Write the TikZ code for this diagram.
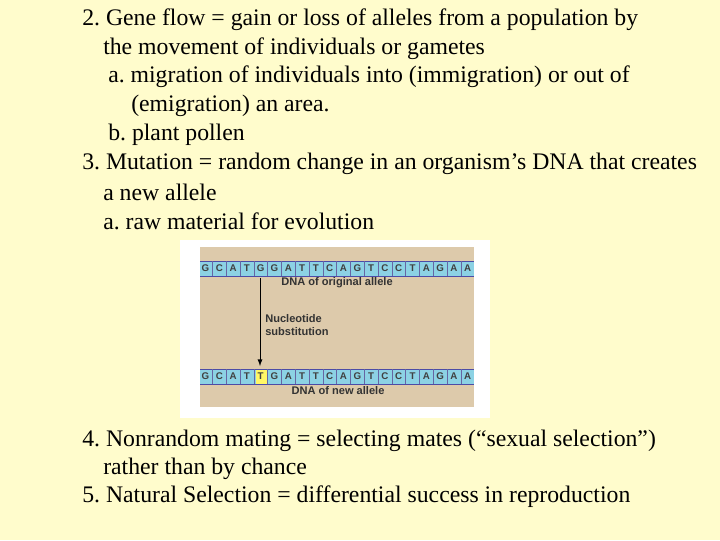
\documentclass[tikz,border=0pt]{standalone}
\usepackage{fontspec}
\setmainfont{Liberation Serif}
\newfontfamily\lsans{Liberation Sans}
\frenchspacing
\begin{document}
\begin{tikzpicture}[x=0.75pt,y=-0.75pt,
  txt/.style={anchor=west,inner sep=0pt,font=\fontsize{17.8}{20}\selectfont},
  base/.style={font=\lsans\bfseries\fontsize{7.3}{8}\selectfont,text=black!75,inner sep=0pt},
  lab/.style={font=\lsans\bfseries\fontsize{8.3}{9.8}\selectfont,text=black!80,inner sep=0pt,align=left}]
\fill[yellow!20] (0,0) rectangle (720,540);
\useasboundingbox (0,0) rectangle (720,540);
\node[txt] (l1) at (82,20) {2. Gene flow = gain or loss of alleles from a population by};
\node[txt] (l2) at (103,49) {the movement of individuals or gametes};
\node[txt] (l3) at (108,77) {a. migration of individuals into (immigration) or out of};
\node[txt] (l4) at (131,106) {(emigration) an area.};
\node[txt] (l5) at (108,135) {b. plant pollen};
\node[txt] (l6) at (82,164) {3. Mutation = random change in an organism’s DNA that creates};
\node[txt] (l7) at (103,192) {a new allele};
\node[txt] (l8) at (103,221) {a. raw material for evolution};
\node[txt] (l9) at (82,441) {4. Nonrandom mating = selecting mates (“sexual selection”)};
\node[txt] (l10) at (103,469) {rather than by chance};
\node[txt] (l11) at (82,497) {5. Natural Selection = differential success in reproduction};
% figure
\fill[white] (180,240) rectangle (490,418);
\fill[fill={rgb,255:red,221;green,202;blue,171}] (200,247) rectangle (474,407);
\def\seqA{G,C,A,T,G,G,A,T,T,C,A,G,T,C,C,T,A,G,A,A}
\def\seqB{G,C,A,T,T,G,A,T,T,C,A,G,T,C,C,T,A,G,A,A}
\foreach \y/\s in {261/\seqA,369/\seqB}{
  \fill[fill={rgb,255:red,140;green,210;blue,228}] (200,\y) rectangle (474,\y+15);
  \draw[blue!50!black!70,line width=0.5pt] (200,\y) -- (474,\y) (200,\y+15) -- (474,\y+15);
}
\fill[yellow!60] (256,369.5) rectangle (267.5,383.5);
\foreach \l [count=\i from 0] in \seqA {
  \node[base] (a\i) at (205.5+13.8*\i,268.5) {\l};
  \ifnum\i>0 \draw[blue!40!black!60,line width=0.4pt] (198.6+13.8*\i,261) -- ++(0,15);\fi}
\foreach \l [count=\i from 0] in \seqB {
  \node[base] (b\i) at (205.5+13.8*\i,376.5) {\l};
  \ifnum\i>0 \draw[blue!40!black!60,line width=0.4pt] (198.6+13.8*\i,369) -- ++(0,15);\fi}
\node[lab] (o) at (337,283) {DNA of original allele};
\node[lab] (n) at (338,391) {DNA of new allele};
\node[lab,anchor=north west] (ns) at (265,314) {Nucleotide\\substitution};
\draw[-latex,line width=0.7pt] (260,278) -- (260,366);
\end{tikzpicture}
\end{document}
